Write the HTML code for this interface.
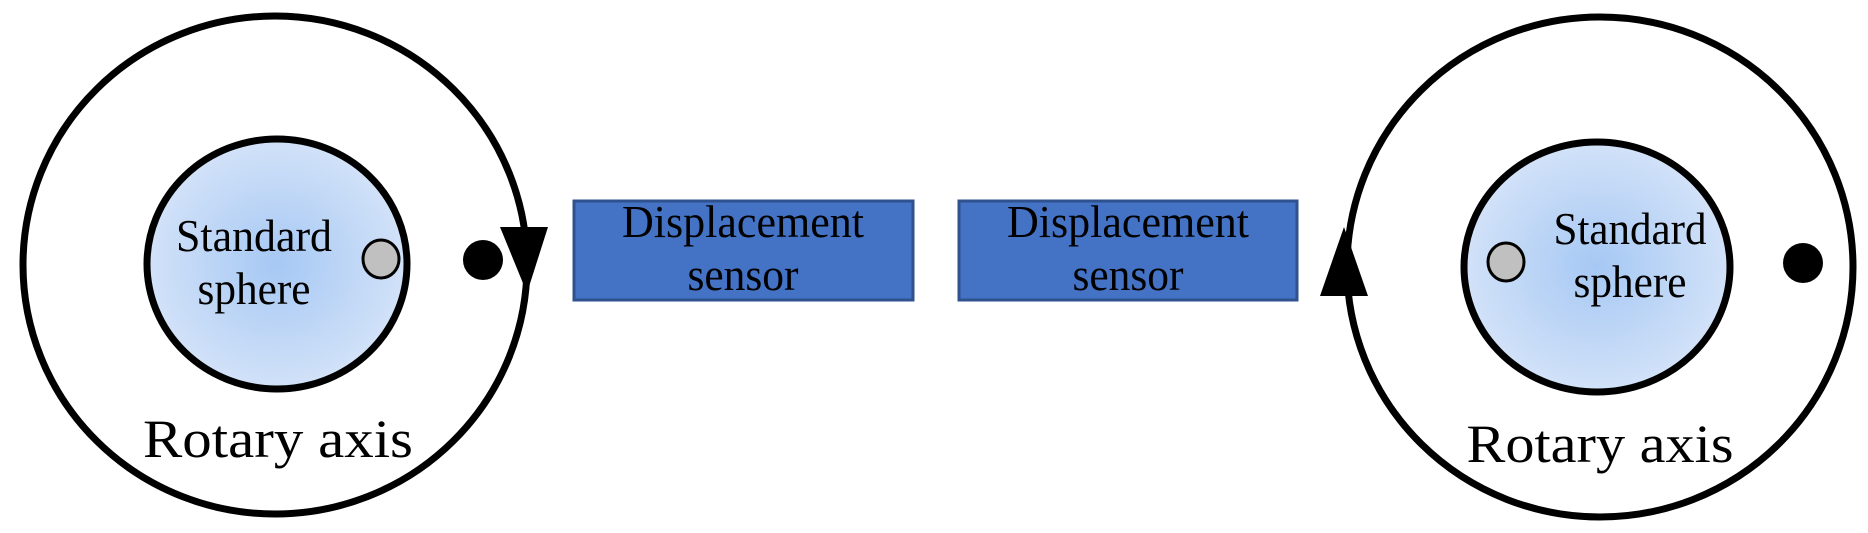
<!DOCTYPE html>
<html><head><meta charset="utf-8"><style>html,body{margin:0;padding:0;background:#fff}svg{display:block}</style></head>
<body>
<svg width="1868" height="533" viewBox="0 0 1868 533" xmlns="http://www.w3.org/2000/svg" font-family="'Liberation Serif', serif">
<defs>
<radialGradient id="g" cx="50%" cy="50%" r="50%">
<stop offset="0" stop-color="#a6c8f4"/>
<stop offset="1" stop-color="#d2e2f8"/>
</radialGradient>
</defs>
<!-- left -->
<ellipse cx="275" cy="265" rx="252" ry="249" fill="none" stroke="#000" stroke-width="7"/>
<ellipse cx="277" cy="264" rx="130" ry="125" fill="url(#g)" stroke="#000" stroke-width="7"/>
<ellipse cx="381" cy="259" rx="18" ry="19" fill="#c0c0c0" stroke="#000" stroke-width="3"/>
<ellipse cx="483" cy="260" rx="20" ry="20" fill="#000"/>
<polygon points="500,227 548,227 527,293" fill="#000"/>
<text x="254" y="251" font-size="46" text-anchor="middle" textLength="156" lengthAdjust="spacingAndGlyphs">Standard</text>
<text x="254" y="304" font-size="46" text-anchor="middle" textLength="113" lengthAdjust="spacingAndGlyphs">sphere</text>
<text x="278" y="457" font-size="54" text-anchor="middle" textLength="270" lengthAdjust="spacingAndGlyphs">Rotary axis</text>
<rect x="574" y="201" width="339" height="99" fill="#4472c4" stroke="#2f528f" stroke-width="3"/>
<text x="743" y="237" font-size="46" text-anchor="middle" textLength="242" lengthAdjust="spacingAndGlyphs">Displacement</text>
<text x="743" y="290" font-size="46" text-anchor="middle" textLength="111" lengthAdjust="spacingAndGlyphs">sensor</text>
<!-- right -->
<rect x="959" y="201" width="338" height="99" fill="#4472c4" stroke="#2f528f" stroke-width="3"/>
<text x="1128" y="237" font-size="46" text-anchor="middle" textLength="242" lengthAdjust="spacingAndGlyphs">Displacement</text>
<text x="1128" y="290" font-size="46" text-anchor="middle" textLength="111" lengthAdjust="spacingAndGlyphs">sensor</text>
<ellipse cx="1600" cy="267" rx="253" ry="250" fill="none" stroke="#000" stroke-width="7"/>
<ellipse cx="1597" cy="267" rx="133" ry="125" fill="url(#g)" stroke="#000" stroke-width="7"/>
<ellipse cx="1506" cy="262" rx="18" ry="19" fill="#c0c0c0" stroke="#000" stroke-width="3"/>
<ellipse cx="1803" cy="263" rx="20" ry="20" fill="#000"/>
<polygon points="1320,296 1368,296 1344,227" fill="#000"/>
<text x="1630" y="244" font-size="46" text-anchor="middle" textLength="153" lengthAdjust="spacingAndGlyphs">Standard</text>
<text x="1630" y="297" font-size="46" text-anchor="middle" textLength="113" lengthAdjust="spacingAndGlyphs">sphere</text>
<text x="1600" y="462" font-size="54" text-anchor="middle" textLength="267" lengthAdjust="spacingAndGlyphs">Rotary axis</text>
</svg>
</body></html>
